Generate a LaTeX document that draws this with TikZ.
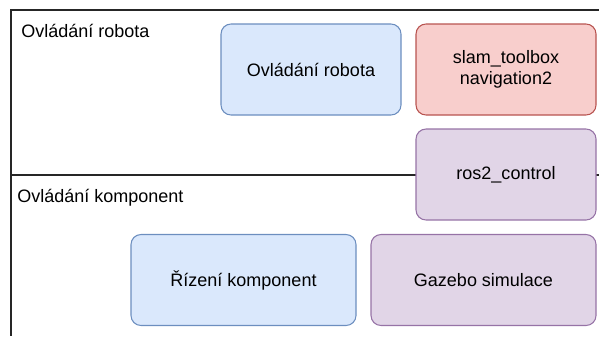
\documentclass[tikz,border=0pt]{standalone}
\usepackage{fontspec}
\setmainfont{Liberation Sans}
\usepackage{tikz}
\usetikzlibrary{positioning}
\usepackage{xcolor}
\definecolor{blueFill}{HTML}{DAE8FC}
\definecolor{blueLine}{HTML}{6C8EBF}
\definecolor{redFill}{HTML}{F8CECC}
\definecolor{redLine}{HTML}{B85450}
\definecolor{purpleFill}{HTML}{E1D5E7}
\definecolor{purpleLine}{HTML}{9673A6}
\tikzset{
    box/.style={draw, rounded corners=7.5pt, line width=0.8pt, align=center,
        minimum width=135pt, minimum height=68.25pt, inner sep=0pt,
        font=\fontsize{13.5}{15.75}\selectfont},
    widebox/.style={box, minimum width=168.75pt},
    lane/.style={line width=1.1pt, draw=black!85},
    lanetitle/.style={anchor=base west, inner sep=0pt, font=\fontsize{13.5}{15.75}\selectfont}
}

\begin{document}
\begin{tikzpicture}[x=0.75pt, y=-0.75pt]
    \useasboundingbox (0,0) rectangle (599,336);
    % Lanes
    \draw[lane] (599,10) -- (11,10) -- (11,336);
    \draw[lane] (11,175) -- (599,175);
    \node[lanetitle] (laneRobot) at (21,37) {Ovládání robota};
    \node[lanetitle] (laneKomp) at (17,202) {Ovládání komponent};

    % Upper lane
    \node[box, fill=blueFill, draw=blueLine] (robot) at (311,69.5) {Ovládání robota};
    \node[box, fill=redFill, draw=redLine] (slam) at (506,69.5) {slam\_toolbox\\navigation2};
    \node[box, fill=purpleFill, draw=purpleLine] (ros2) at (506,174.5) {ros2\_control};

    % Lower lane
    \node[widebox, fill=blueFill, draw=blueLine] (rizeni) at (243.5,280) {Řízení komponent};
    \node[widebox, fill=purpleFill, draw=purpleLine] (gazebo) at (483.5,280) {Gazebo simulace};
\end{tikzpicture}
\end{document}
